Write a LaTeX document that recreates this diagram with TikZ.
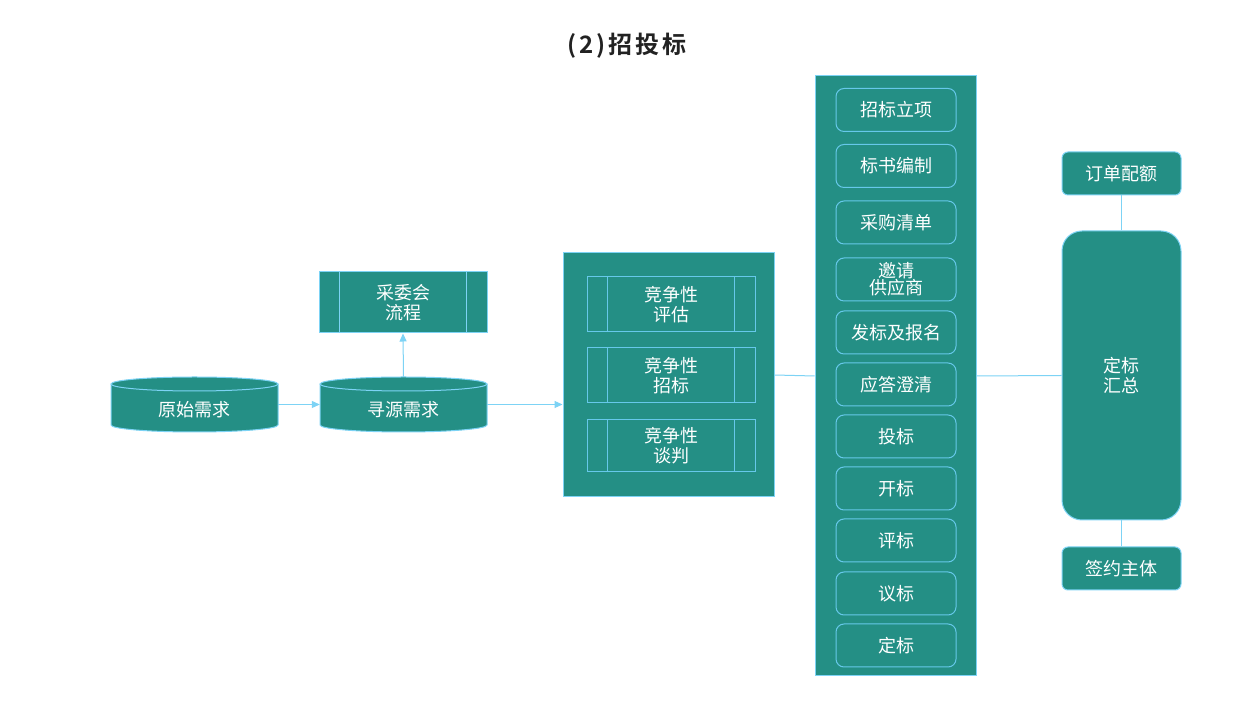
\documentclass[tikz,border=0pt]{standalone}
\usepackage{fontspec}
\setmainfont{Noto Sans CJK SC}
\newfontfamily\titlefont[LetterSpace=12]{Noto Sans CJK SC Bold}
\usetikzlibrary{arrows.meta}
\definecolor{tealfill}{HTML}{248F85}
\definecolor{edgeblue}{HTML}{7DD3F5}
\definecolor{innerblue}{HTML}{66C8EA}
\definecolor{titlegray}{HTML}{222222}
\tikzset{
  box/.style={draw=edgeblue, fill=tealfill, line width=1pt, text=white, font=\fontsize{18}{20}\selectfont, align=center, inner sep=0pt},
  ibox/.style={draw=innerblue, fill=tealfill, line width=1pt, text=white, font=\fontsize{18}{20}\selectfont, align=center, inner sep=0pt, minimum width=120pt, minimum height=43pt, rounded corners=8pt},
  txt/.style={text=white, font=\fontsize{18}{20}\selectfont, align=center, inner sep=0pt},
  conn/.style={draw=edgeblue, line width=1pt},
  arr/.style={conn, -{Triangle[length=8pt,width=7pt]}},
  divline/.style={draw=edgeblue, line width=0.8pt},
  ghost/.style={inner sep=0pt, minimum width=167pt, minimum height=55pt}
}
\newcommand\mycyl[4]{% name, cx, text, node
  \fill[tealfill] ({#2-83.5},322) -- ({#2-83.5},281) arc[start angle=180,end angle=360,x radius=83.5pt,y radius=7pt] -- ({#2+83.5},322) -- cycle;
  \draw[edgeblue, line width=1pt] ({#2-83.5},322) -- ({#2-83.5},281) arc[start angle=180,end angle=360,x radius=83.5pt,y radius=7pt] -- ({#2+83.5},322);
  \draw[edgeblue, fill=tealfill, line width=1pt] (#2,322) ellipse[x radius=83.5pt, y radius=7pt];
  \node[ghost] (#1) at (#2,301.5) {};
  \node[txt] (#1t) at (#2,296) {#3};
}
\begin{document}
\begin{tikzpicture}[x=1pt,y=1pt]
\useasboundingbox (0,0) rectangle (1257,706);
\fill[white] (0,0) rectangle (1257,706);

\node[text=titlegray, font=\titlefont\fontsize{24}{28}\selectfont] (title) at (627,660) {(2)招投标};

% cylinders
\mycyl{yssq}{194.5}{原始需求}{}
\mycyl{xysq}{403.5}{寻源需求}{}

% committee box
\node[box, minimum width=168pt, minimum height=61pt] (cwh) at (403,403.5) {采委会\\流程};
\draw[divline] ([xshift=21pt]cwh.north west) -- ([xshift=21pt]cwh.south west);
\draw[divline] ([xshift=-21pt]cwh.north east) -- ([xshift=-21pt]cwh.south east);

% big box
\node[box, minimum width=211pt, minimum height=244pt] (big) at (668.5,331) {};
\node[box, draw=innerblue, minimum width=168pt, minimum height=55pt] (pg) at (671,401.5) {竞争性\\评估};
\node[box, draw=innerblue, minimum width=168pt, minimum height=55pt] (zb) at (671,330.5) {竞争性\\招标};
\node[box, draw=innerblue, minimum width=168pt, minimum height=52pt] (tp) at (671,260) {竞争性\\谈判};
\foreach \n in {pg,zb,tp}{
  \draw[draw=innerblue, line width=0.8pt] ([xshift=21pt]\n.north west) -- ([xshift=21pt]\n.south west);
  \draw[draw=innerblue, line width=0.8pt] ([xshift=-21pt]\n.north east) -- ([xshift=-21pt]\n.south east);
}

% column
\node[box, minimum width=161pt, minimum height=600pt] (col) at (895.5,330) {};
\node[ibox] (s1) at (896,{706-110}) {招标立项};
\node[ibox] (s2) at (896,{706-166}) {标书编制};
\node[ibox] (s3) at (896,{706-222.5}) {采购清单};
\node[ibox] (s4) at (896,{706-279.5}) {\rule{0pt}{12pt}邀请\\[-3pt]供应商};
\node[ibox] (s5) at (896,{706-332.5}) {发标及报名};
\node[ibox] (s6) at (896,{706-384.5}) {应答澄清};
\node[ibox] (s7) at (896,{706-436.5}) {投标};
\node[ibox] (s8) at (896,{706-488.5}) {开标};
\node[ibox] (s9) at (896,{706-540.5}) {评标};
\node[ibox] (s10) at (896,{706-593.5}) {议标};
\node[ibox] (s11) at (896,{706-645.5}) {定标};

% right side
\node[box, minimum width=119pt, minimum height=289pt, rounded corners=20pt] (dbhz) at (1121.5,330.5) {定标\\汇总};
\node[box, minimum width=119pt, minimum height=43pt, rounded corners=6pt] (ddpe) at (1121.5,532.5) {订单配额};
\node[box, minimum width=119pt, minimum height=43pt, rounded corners=6pt] (qyzt) at (1121.5,137.5) {签约主体};

% connectors
\draw[arr] (yssq.east) -- (xysq.west);
\draw[arr] (xysq.north) -- (cwh.south);
\draw[arr] (xysq.east) -- (xysq.east -| big.west);
\draw[conn] (big.east) -- (col.west);
\draw[conn] (col.east) -- (dbhz.west);
\draw[conn] (ddpe.south) -- (dbhz.north);
\draw[conn] (dbhz.south) -- (qyzt.north);
\end{tikzpicture}
\end{document}
